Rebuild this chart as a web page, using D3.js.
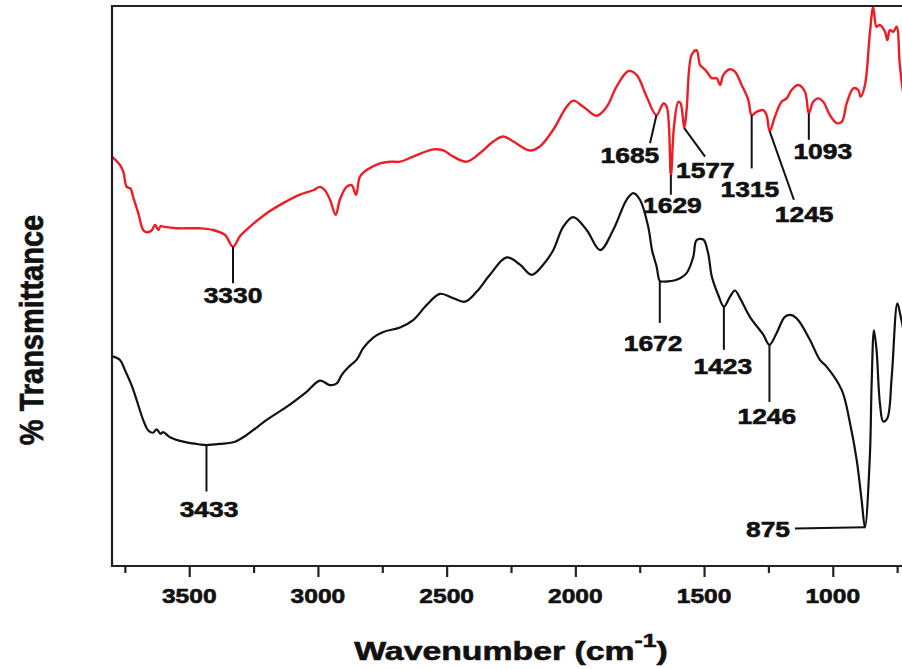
<!DOCTYPE html>
<html>
<head>
<meta charset="utf-8">
<script src="https://cdn.jsdelivr.net/npm/d3@7"></script>
<style>
  html, body { margin: 0; padding: 0; background: #fff; }
  svg { display: block; }
  text { font-family: "Liberation Sans", Arial, sans-serif; font-weight: bold; fill: #111; stroke: #111; stroke-width: 0.6px; }
</style>
</head>
<body>
<svg id="chart" width="902" height="669"></svg>
<script>
// FTIR spectra: [wavenumber (cm-1), transmittance (arb. %)]
const redSpectrum = [
  [3800, 73.1], [3769, 71.6], [3756, 70.4], [3743, 67.7], [3728, 67.4], [3718, 65.9],
  [3698, 63.0], [3679, 60.0], [3666, 59.6], [3646, 59.9], [3633, 60.9], [3620, 60.0],
  [3611, 60.7], [3601, 60.6], [3549, 60.3], [3458, 60.3], [3407, 60.0], [3361, 59.1],
  [3330, 57.0], [3303, 58.9], [3264, 60.6], [3199, 63.0], [3135, 64.8], [3070, 66.3],
  [3018, 67.1], [2992, 67.7], [2973, 67.1], [2953, 65.4], [2931, 62.7], [2915, 65.4],
  [2889, 67.7], [2869, 68.0], [2852, 66.3], [2837, 69.5], [2811, 70.7], [2759, 71.9],
  [2720, 72.2], [2681, 72.2], [2630, 73.1], [2552, 74.4], [2513, 74.2], [2474, 73.1],
  [2422, 72.2], [2371, 73.7], [2319, 75.8], [2280, 76.7], [2241, 75.8], [2176, 74.2],
  [2138, 74.9], [2086, 77.9], [2034, 82.0], [2008, 83.1], [1969, 82.0], [1917, 80.4],
  [1878, 82.0], [1840, 85.6], [1794, 88.4], [1762, 87.7], [1723, 83.8], [1685, 80.5],
  [1658, 82.6], [1645, 82.0], [1629, 69.8], [1617, 78.4], [1600, 82.9], [1591, 82.6],
  [1577, 78.2], [1568, 81.4], [1548, 91.3], [1529, 92.1], [1516, 89.5], [1503, 88.9],
  [1490, 88.3], [1470, 87.1], [1451, 87.1], [1438, 85.9], [1425, 87.7], [1399, 88.7],
  [1380, 88.3], [1354, 85.9], [1328, 83.2], [1315, 80.5], [1296, 81.1], [1270, 81.4],
  [1257, 80.5], [1245, 77.6], [1225, 80.2], [1199, 82.9], [1179, 83.5], [1160, 85.0],
  [1134, 85.9], [1108, 84.7], [1093, 80.8], [1076, 82.9], [1056, 83.5], [1037, 82.9],
  [1011, 80.5], [985, 79.1], [965, 79.3], [946, 82.6], [920, 85.3], [901, 85.0],
  [892, 83.8], [875, 85.9], [856, 95.1], [843, 99.8], [830, 96.3], [817, 96.6],
  [797, 95.4], [788, 93.9], [778, 95.7], [765, 95.4], [752, 96.3], [739, 89.2],
  [720, 83.2], [700, 81.4]
];

const blackSpectrum = [
  [3800, 37.5], [3769, 36.8], [3750, 35.0], [3724, 32.3], [3704, 29.6], [3679, 26.1],
  [3659, 24.2], [3640, 23.8], [3627, 24.4], [3611, 23.6], [3601, 23.9], [3575, 23.0],
  [3523, 22.2], [3458, 21.7], [3433, 21.6], [3381, 21.8], [3322, 22.2], [3277, 23.4],
  [3199, 26.1], [3122, 28.4], [3044, 31.1], [2992, 33.1], [2953, 32.3], [2927, 32.6],
  [2908, 34.1], [2882, 35.5], [2850, 36.8], [2824, 38.9], [2785, 40.8], [2746, 41.8],
  [2681, 42.6], [2630, 43.9], [2578, 46.6], [2526, 48.6], [2474, 47.8], [2429, 47.2],
  [2383, 49.0], [2332, 52.0], [2267, 55.1], [2215, 53.8], [2170, 52.0], [2125, 53.8],
  [2086, 56.4], [2047, 60.6], [2008, 62.3], [1956, 60.0], [1904, 56.4], [1853, 60.0],
  [1801, 65.4], [1775, 66.6], [1749, 65.4], [1717, 60.6], [1702, 56.4], [1684, 53.4],
  [1672, 50.9], [1658, 50.8], [1607, 51.1], [1568, 52.3], [1542, 55.2], [1529, 58.2],
  [1503, 58.3], [1484, 55.8], [1470, 51.7], [1445, 48.4], [1423, 46.3], [1399, 48.1],
  [1380, 49.2], [1360, 47.8], [1322, 44.5], [1270, 41.3], [1246, 39.5], [1218, 41.6],
  [1186, 44.5], [1160, 44.8], [1134, 43.9], [1089, 40.4], [1050, 36.8], [1024, 35.6],
  [965, 31.4], [933, 25.5], [907, 18.9], [888, 11.8], [875, 6.9], [856, 19.5],
  [849, 32.6], [840, 42.1], [830, 38.6], [817, 29.1], [804, 25.8], [788, 26.4],
  [771, 33.8], [749, 46.9], [736, 44.5], [720, 41.3], [700, 39.5]
];

// peak annotations: label, peak (w, T), leader end (w, T), label anchor point (w, T), text-anchor
const peakLabels = ["3330", "3433", "1685", "1629", "1577", "1315", "1245", "1093", "1672", "1423", "1246", "875"];
const peakFrom = [[3330, 57.0], [3433, 21.6], [1685, 80.5], [1629, 69.8], [1577, 78.2], [1315, 80.5],
                  [1245, 77.6], [1093, 80.8], [1672, 50.9], [1423, 46.3], [1246, 39.5], [875, 6.9]];
const peakTo = [[3330, 50.5], [3433, 13.3], [1710, 75.5], [1629, 66.3], [1496, 73.1], [1315, 71.0],
                [1151, 65.4], [1093, 76.1], [1672, 43.4], [1423, 38.6], [1246, 29.3], [1147, 6.7]];
const peakText = [[3330, 47.0], [3423, 8.7], [1788, 72.0], [1623, 63.0], [1495, 69.2], [1322, 65.9],
                  [1111, 61.5], [1039, 72.6], [1698, 38.4], [1427, 34.3], [1256, 25.4], [1166, 5.1]];
const peakAnchor = ["middle", "middle", "middle", "middle", "middle", "middle",
                    "middle", "middle", "middle", "middle", "middle", "end"];

const majorTicks = [3500, 3000, 2500, 2000, 1500, 1000];
const minorTicks = [3750, 3250, 2750, 2250, 1750, 1250, 750];

const xTitle = "Wavenumber (cm";
const xTitleSup = "-1";
const yTitle = "% Transmittance";

// layout
const svg = d3.select("#chart");
const plotLeft = 112, plotRight = 910, plotTop = 6, plotBottom = 566;

const x = d3.scaleLinear().domain([3800, 700]).range([plotLeft, plotRight]);
const y = d3.scaleLinear().domain([0, 100]).range([plotBottom, plotTop]);

svg.append("defs").append("clipPath").attr("id", "plot")
  .append("rect").attr("x", plotLeft).attr("y", plotTop - 2)
  .attr("width", plotRight - plotLeft).attr("height", plotBottom - plotTop + 2);

const line = d3.line()
  .x(d => x(d[0]))
  .y(d => y(d[1]))
  .curve(d3.curveCatmullRom.alpha(0.5));

const plot = svg.append("g").attr("clip-path", "url(#plot)");

plot.append("path")
  .datum(blackSpectrum)
  .attr("d", line)
  .attr("fill", "none")
  .attr("stroke", "#111")
  .attr("stroke-width", 2.2)
  .attr("stroke-linejoin", "round");

plot.append("path")
  .datum(redSpectrum)
  .attr("d", line)
  .attr("fill", "none")
  .attr("stroke", "#ee1c25")
  .attr("stroke-width", 2.4)
  .attr("stroke-linejoin", "round");

// frame
svg.append("path")
  .attr("d", `M${plotRight},${plotTop}H${plotLeft}V${plotBottom}H${plotRight}`)
  .attr("fill", "none")
  .attr("stroke", "#222")
  .attr("stroke-width", 2.2);

// x axis ticks
const xAxis = svg.append("g").attr("transform", `translate(0,${plotBottom})`);
xAxis.call(d3.axisBottom(x).tickValues(majorTicks).tickSize(11).tickFormat(""))
  .call(g => g.select(".domain").remove());
xAxis.append("g")
  .call(d3.axisBottom(x).tickValues(minorTicks).tickSize(7).tickFormat(""))
  .call(g => g.select(".domain").remove());
xAxis.selectAll(".tick line").attr("stroke", "#222").attr("stroke-width", 2.2);

svg.append("g").selectAll("text")
  .data(majorTicks)
  .join("text")
  .attr("transform", d => `translate(${x(d)},603) scale(1.17,1)`)
  .attr("text-anchor", "middle")
  .attr("font-size", 21)
  .text(d => d);

// annotations
const ann = svg.append("g");
peakLabels.forEach((lab, i) => {
  ann.append("line")
    .attr("x1", x(peakFrom[i][0])).attr("y1", y(peakFrom[i][1]))
    .attr("x2", x(peakTo[i][0])).attr("y2", y(peakTo[i][1]))
    .attr("stroke", "#111")
    .attr("stroke-width", 2);
  ann.append("text")
    .attr("transform", `translate(${x(peakText[i][0])},${y(peakText[i][1])}) scale(1.2,1)`)
    .attr("text-anchor", peakAnchor[i])
    .attr("font-size", 22)
    .text(lab);
});

// axis titles
const xt = svg.append("text")
  .attr("transform", `translate(${(plotLeft + plotRight) / 2},660) scale(1.3,1)`)
  .attr("text-anchor", "middle")
  .attr("font-size", 26);
xt.append("tspan").text(xTitle);
xt.append("tspan").attr("font-size", 19).attr("dy", -13).text(xTitleSup);
xt.append("tspan").attr("dy", 13).text(")");

svg.append("text")
  .attr("transform", "translate(43,330) rotate(-90) scale(1,1.17)")
  .attr("text-anchor", "middle")
  .attr("font-size", 29)
  .text(yTitle);
</script>
</body>
</html>
